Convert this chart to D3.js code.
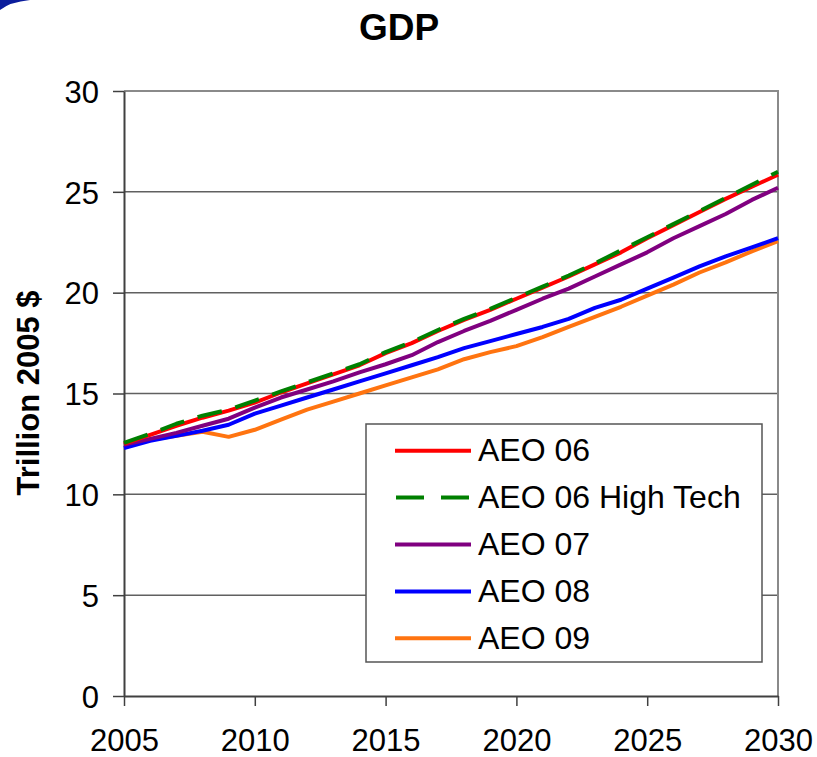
<!DOCTYPE html>
<html>
<head>
<meta charset="utf-8">
<script src="https://cdn.jsdelivr.net/npm/d3@7"></script>
<style>
  body { margin: 0; background: #fff; }
  svg { display: block; font-family: "Liberation Sans", Arial, sans-serif; }
</style>
</head>
<body>
<svg id="chart" width="817" height="757"></svg>
<script>
// years on the x axis
var years = d3.range(2005, 2031);

// GDP, trillion 2005 $
var aeo06 = [12.5, 12.95, 13.4, 13.8, 14.15, 14.55, 15.05, 15.5, 15.95, 16.4, 17.0, 17.5, 18.1,
  18.65, 19.15, 19.7, 20.25, 20.8, 21.4, 22.0, 22.7, 23.35, 24.0, 24.65, 25.25, 25.85];
var aeo06HighTech = [12.55, 13.0, 13.5, 13.9, 14.2, 14.65, 15.1, 15.55, 16.0, 16.45, 17.05, 17.55, 18.15,
  18.7, 19.2, 19.75, 20.3, 20.85, 21.45, 22.1, 22.75, 23.4, 24.05, 24.7, 25.35, 26.0];
var aeo07 = [12.45, 12.75, 13.05, 13.4, 13.75, 14.3, 14.8, 15.2, 15.6, 16.05, 16.45, 16.9, 17.55,
  18.1, 18.6, 19.15, 19.7, 20.2, 20.8, 21.4, 22.0, 22.7, 23.3, 23.9, 24.6, 25.2];
var aeo08 = [12.3, 12.65, 12.9, 13.15, 13.45, 14.0, 14.4, 14.8, 15.2, 15.6, 16.0, 16.4, 16.8,
  17.25, 17.6, 17.95, 18.3, 18.7, 19.25, 19.65, 20.2, 20.75, 21.3, 21.8, 22.25, 22.7];
// AEO 09 starts in 2006
var aeo09 = [null, 12.7, 12.9, 13.1, 12.85, 13.2, 13.7, 14.2, 14.6, 15.0, 15.4, 15.8, 16.2,
  16.7, 17.05, 17.35, 17.8, 18.3, 18.8, 19.3, 19.85, 20.4, 21.0, 21.5, 22.05, 22.55];

var seriesNames = ["AEO 06", "AEO 06 High Tech", "AEO 07", "AEO 08", "AEO 09"];
var yTicks = [0, 5, 10, 15, 20, 25, 30];
var xTicks = [2005, 2010, 2015, 2020, 2025, 2030];

var series = [
  {name: seriesNames[0], values: aeo06, color: "#ff0000", dash: null},
  {name: seriesNames[1], values: aeo06HighTech, color: "#008000", dash: "25,14"},
  {name: seriesNames[2], values: aeo07, color: "#800080", dash: null},
  {name: seriesNames[3], values: aeo08, color: "#0000ff", dash: null},
  {name: seriesNames[4], values: aeo09, color: "#ff7410", dash: null}
];

var svg = d3.select("#chart");

// blue slide decoration in the corner
svg.append("path")
    .attr("d", "M0,0 L30,0 Q10,2 0,10 Z")
    .attr("fill", "#0b1d9c");

var x = d3.scaleLinear().domain([2005, 2030]).range([124, 778]);
var y = d3.scaleLinear().domain([0, 30]).range([696, 91]);

// title
svg.append("text")
    .attr("x", 399).attr("y", 40)
    .attr("text-anchor", "middle")
    .attr("font-size", 37).attr("font-weight", "bold")
    .text("GDP");

// y axis title
svg.append("text")
    .attr("transform", "translate(39,393) rotate(-90)")
    .attr("text-anchor", "middle")
    .attr("font-size", 31).attr("font-weight", "bold")
    .text("Trillion 2005 $");

// grid lines
svg.append("g").selectAll("line")
    .data(yTicks.filter((d) => d > 0 && d < 30))
    .enter().append("line")
    .attr("x1", 124).attr("x2", 778)
    .attr("y1", (d) => y(d)).attr("y2", (d) => y(d))
    .attr("stroke", "#606060").attr("stroke-width", 1.5);

// top and right frame
svg.append("path")
    .attr("d", "M124," + y(30) + "H778V696")
    .attr("fill", "none")
    .attr("stroke", "#8a8a8a").attr("stroke-width", 2);

// axes
var yAxis = svg.append("g")
    .attr("transform", "translate(124,0)")
    .call(d3.axisLeft(y).tickValues(yTicks).tickSize(11).tickPadding(14).tickSizeOuter(0));
var xAxis = svg.append("g")
    .attr("transform", "translate(0,696)")
    .call(d3.axisBottom(x).tickValues(xTicks).tickFormat(d3.format("d")).tickSize(10).tickPadding(23).tickSizeOuter(0));

[yAxis, xAxis].forEach((a) => {
    a.select(".domain").attr("stroke", "#404040").attr("stroke-width", 2);
    a.selectAll(".tick line").attr("stroke", "#404040").attr("stroke-width", 1.5);
    a.selectAll("text")
        .attr("font-family", "'Liberation Sans', Arial, sans-serif")
        .attr("font-size", 31).attr("fill", "#000");
});
yAxis.selectAll("text").attr("dy", "0.36em");
xAxis.selectAll("text").attr("dy", "0.72em");

// lines, drawn bottom-up so the dashed one sits on top
var line = d3.line()
    .defined((d) => d != null)
    .x((d, i) => x(years[i]))
    .y((d) => y(d));

var drawOrder = [4, 3, 2, 0, 1];
drawOrder.forEach((k) => {
    var s = series[k];
    svg.append("path")
        .datum(s.values)
        .attr("d", line)
        .attr("fill", "none")
        .attr("stroke", s.color)
        .attr("stroke-width", 4)
        .attr("stroke-linejoin", "round")
        .attr("stroke-dasharray", s.dash);
});

// legend
var lg = svg.append("g");
lg.append("rect")
    .attr("x", 366).attr("y", 424)
    .attr("width", 396).attr("height", 238)
    .attr("fill", "#fff")
    .attr("stroke", "#555").attr("stroke-width", 1.5);

var rowH = 46.9;
var item = lg.selectAll("g.item")
    .data(series)
    .enter().append("g")
    .attr("class", "item")
    .attr("transform", (d, i) => "translate(0," + (450.7 + i * rowH) + ")");
item.append("line")
    .attr("x1", (d) => d.dash ? 396 : 395).attr("x2", 471)
    .attr("stroke", (d) => d.color)
    .attr("stroke-width", 4)
    .attr("stroke-dasharray", (d) => d.dash ? "28,17" : null);
item.append("text")
    .attr("x", 478).attr("y", 10.5)
    .attr("font-size", 32)
    .text((d) => d.name);
</script>
</body>
</html>
